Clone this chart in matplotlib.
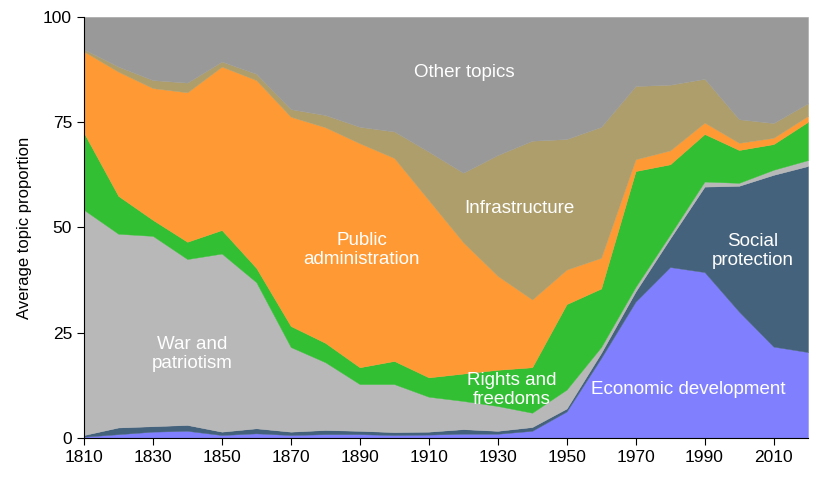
import matplotlib.pyplot as plt

plt.rcParams['font.family'] = ['Liberation Sans', 'DejaVu Sans']

years = list(range(1810, 2021, 10))

# layer values, bottom to top (percent)
econ = [0.3, 0.9, 1.5, 1.7, 0.7, 1.1, 0.7, 0.9, 0.9, 0.7, 0.8,
        1.0, 1.0, 1.7, 6.3, 19.0, 32.4, 40.6, 39.4, 30.0, 21.7, 20.4]
social = [0.4, 1.6, 1.3, 1.4, 0.8, 1.2, 0.8, 1.0, 0.8, 0.7, 0.7,
          1.1, 0.7, 0.9, 0.7, 1.2, 2.4, 6.8, 20.3, 29.9, 40.8, 44.2]
war = [53.5, 46.0, 45.2, 39.4, 42.3, 34.7, 20.1, 16.1, 11.1, 11.4, 8.3,
       6.7, 5.9, 3.4, 4.5, 1.4, 1.1, 0.9, 1.2, 0.7, 1.2, 1.4]
rights = [18.3, 9.0, 3.8, 4.1, 5.6, 3.4, 5.0, 4.6, 4.0, 5.5, 4.6,
          6.5, 8.6, 10.8, 20.3, 13.9, 27.5, 16.7, 11.3, 7.8, 6.1, 9.1]
admin = [19.3, 29.5, 31.3, 35.5, 38.8, 44.6, 49.7, 51.2, 53.2, 48.2, 42.1,
         31.2, 22.3, 16.1, 8.2, 7.3, 2.8, 3.3, 2.7, 1.7, 1.5, 1.4]
infra = [0.5, 1.2, 1.9, 2.3, 1.2, 1.5, 1.8, 2.9, 3.9, 6.3, 11.5,
         16.5, 28.7, 37.7, 31.0, 31.1, 17.4, 15.6, 10.4, 5.6, 3.5, 3.0]
other = [7.7, 11.8, 15.0, 15.6, 10.6, 13.5, 21.9, 23.3, 26.1, 27.2, 32.0,
         37.0, 32.8, 29.4, 29.0, 26.1, 16.4, 16.1, 14.7, 24.3, 25.2, 20.5]

colors = ['#8080ff', '#45627c', '#b8b8b8', '#33bf33',
          '#ff9933', '#ae9e6b', '#999999']

fig = plt.figure(figsize=(8.3, 4.98), dpi=100)
ax = fig.add_axes([0.101, 0.1205, 0.8725, 0.8455])

polys = ax.stackplot(years, econ, social, war, rights, admin, infra, other,
                     colors=colors)
for p, c in zip(polys, colors):
    p.set_edgecolor(c)
    p.set_linewidth(0.3)

# labels inside the areas
lab = dict(color='white', fontsize=13.5, ha='center', va='center',
           linespacing=1.18)
ax.text(1920.2, 86.9, 'Other topics', **lab)
ax.text(1936.2, 54.6, 'Infrastructure', **lab)
ax.text(1890.6, 44.6, 'Public\nadministration', **lab)
ax.text(1841.3, 20.0, 'War and\npatriotism', **lab)
ax.text(1934.1, 11.4, 'Rights and\nfreedoms', **lab)
ax.text(1985.2, 11.6, 'Economic development', **lab)
ax.text(2004.0, 44.4, 'Social\nprotection', **lab)

ax.set_xlim(1810, 2020)
ax.set_ylim(0, 100)
ax.set_xticks(range(1810, 2011, 20))
ax.set_yticks([0, 25, 50, 75, 100])
ax.tick_params(labelsize=12.5, length=5, color='black')
ax.set_ylabel('Average topic proportion', fontsize=12, labelpad=8)

ax.spines['top'].set_visible(False)
ax.spines['right'].set_visible(False)

fig.savefig('out.png', dpi=100)
